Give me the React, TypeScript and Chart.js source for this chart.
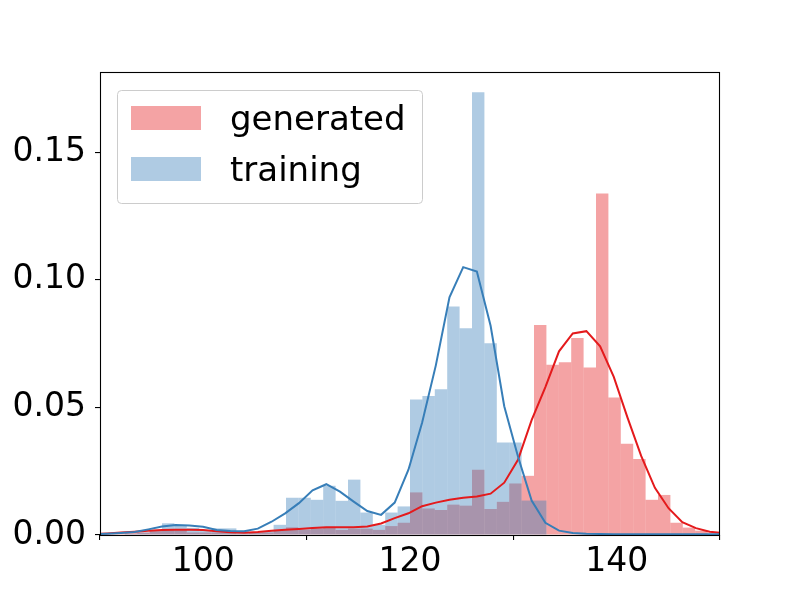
import React, { useEffect, useRef } from "react";
import { Chart, registerables } from "chart.js";

Chart.register(...registerables);

// Histogram bin centres (bin width 1.2)
const binCenters = [
  90.6, 91.8, 93.0, 94.2, 95.4, 96.6, 97.8, 99.0, 100.2, 101.4,
  102.6, 103.8, 105.0, 106.2, 107.4, 108.6, 109.8, 111.0, 112.2, 113.4,
  114.6, 115.8, 117.0, 118.2, 119.4, 120.6, 121.8, 123.0, 124.2, 125.4,
  126.6, 127.8, 129.0, 130.2, 131.4, 132.6, 133.8, 135.0, 136.2, 137.4,
  138.6, 139.8, 141.0, 142.2, 143.4, 144.6, 145.8, 147.0, 148.2, 149.4,
];

const generatedHist = [
  0, 0.0005, 0.001, 0.001, 0.002, 0.002, 0.002, 0.001, 0.001, 0.001,
  0.001, 0.0005, 0.001, 0.001, 0.002, 0.003, 0.002, 0.0025, 0.003, 0.002,
  0.0025, 0.0025, 0.002, 0.0035, 0.0048, 0.0167, 0.0104, 0.0098, 0.0119, 0.0115,
  0.0256, 0.0102, 0.013, 0.0202, 0.0232, 0.0823, 0.0667, 0.0677, 0.0772, 0.0657,
  0.1339, 0.0539, 0.0358, 0.0298, 0.0138, 0.0157, 0.0048, 0.0029, 0.0017, 0.0005,
];

const trainingHist = [
  0, 0, 0.0005, 0.001, 0.0015, 0.0046, 0.0036, 0.0028, 0.002, 0.0026,
  0.0026, 0.0015, 0.001, 0.0015, 0.004, 0.0146, 0.0146, 0.0138, 0.0193, 0.0134,
  0.0217, 0.0088, 0.004, 0.0088, 0.0112, 0.0531, 0.0545, 0.0571, 0.0896, 0.081,
  0.1736, 0.0752, 0.0363, 0.0363, 0.0135, 0.0135, 0, 0, 0, 0,
  0, 0, 0, 0, 0, 0, 0, 0, 0, 0,
];

// KDE evaluation grid
const kdeX = [
  89.37, 90.7, 92.02, 93.35, 94.67, 96.0, 97.32, 98.65, 99.97, 101.3,
  102.62, 103.95, 105.27, 106.6, 107.92, 109.25, 110.57, 111.9, 113.22, 114.55,
  115.87, 117.2, 118.52, 119.85, 121.17, 122.5, 123.82, 125.15, 126.47, 127.8,
  129.12, 130.45, 131.77, 133.1, 134.42, 135.75, 137.07, 138.4, 139.72, 141.05,
  142.37, 143.7, 145.02, 146.35, 147.67, 149.0, 150.32,
];

const generatedKde = [
  0.0003, 0.0006, 0.001, 0.0013, 0.0017, 0.002, 0.0021, 0.0021, 0.002, 0.0015,
  0.0011, 0.0009, 0.0012, 0.0017, 0.0021, 0.0024, 0.0027, 0.003, 0.003, 0.003,
  0.0033, 0.0045, 0.0066, 0.0085, 0.0113, 0.0127, 0.0138, 0.0146, 0.0151, 0.0162,
  0.0205, 0.0295, 0.045, 0.058, 0.072, 0.079, 0.0799, 0.074, 0.062, 0.046,
  0.031, 0.0185, 0.0105, 0.005, 0.0027, 0.0013, 0.0007,
];

const trainingKde = [
  0.0003, 0.0005, 0.0008, 0.0012, 0.0022, 0.0033, 0.0039, 0.0037, 0.0032, 0.002,
  0.0016, 0.0015, 0.0025, 0.0052, 0.0085, 0.0125, 0.0175, 0.0199, 0.017, 0.0131,
  0.0094, 0.0079, 0.0127, 0.0256, 0.044, 0.0665, 0.0932, 0.105, 0.1033, 0.082,
  0.0505, 0.0308, 0.0135, 0.0048, 0.0017, 0.0008, 0.0005, 0.0004, 0.0003, 0.0003,
  0.0003, 0.0003, 0.0003, 0.0003, 0.0003, 0.0003, 0.0003,
];

const xTicks = [100, 120, 140];
const yTicks = [0, 0.05, 0.1, 0.15];
const legendLabels = ["generated", "training"];

const RED = "#e41a1c";
const BLUE = "#377eb8";
const RED_A = "rgba(228,26,28,0.4)";
const BLUE_A = "rgba(55,126,184,0.4)";
const FONT = "'DejaVu Sans', sans-serif";

const framePlugin = {
  id: "frameAndLegend",
  afterDraw(chart: any) {
    const { ctx, chartArea } = chart;
    ctx.save();
    // axes frame
    ctx.strokeStyle = "#000";
    ctx.lineWidth = 1.1;
    ctx.strokeRect(
      Math.round(chartArea.left) + 0.5,
      Math.round(chartArea.top) + 0.5,
      Math.round(chartArea.right - chartArea.left) - 1,
      Math.round(chartArea.bottom - chartArea.top)
    );
    // legend
    const bx = 117.5, by = 90.5, bw = 305, bh = 113;
    ctx.beginPath();
    ctx.roundRect(bx, by, bw, bh, 4);
    ctx.fillStyle = "rgba(255,255,255,0.8)";
    ctx.fill();
    ctx.strokeStyle = "#cccccc";
    ctx.lineWidth = 1;
    ctx.stroke();
    const colors = [RED_A, BLUE_A];
    const patchY = [106, 157];
    const baseY = [130, 181];
    ctx.font = `34px ${FONT}`;
    ctx.textBaseline = "alphabetic";
    ctx.textAlign = "left";
    legendLabels.forEach((lab, i) => {
      ctx.fillStyle = colors[i];
      ctx.fillRect(131, patchY[i], 70, 24);
      ctx.fillStyle = "#000";
      ctx.fillText(lab, 230, baseY[i]);
    });
    ctx.restore();
  },
};

export default function App() {
  const ref = useRef<HTMLCanvasElement | null>(null);
  useEffect(() => {
    if (!ref.current) return;
    const chart = new Chart(ref.current, {
      type: "bar",
      data: {
        datasets: [
          {
            type: "bar",
            label: legendLabels[0],
            data: binCenters.map((x, i) => ({ x, y: generatedHist[i] })),
            backgroundColor: RED_A,
            borderWidth: 0,
            inflateAmount: 0,
            barPercentage: 1,
            categoryPercentage: 1,
            grouped: false,
            order: 4,
          } as any,
          {
            type: "bar",
            label: legendLabels[1],
            data: binCenters.map((x, i) => ({ x, y: trainingHist[i] })),
            backgroundColor: BLUE_A,
            borderWidth: 0,
            inflateAmount: 0,
            barPercentage: 1,
            categoryPercentage: 1,
            grouped: false,
            order: 3,
          } as any,
          {
            type: "line",
            label: "generated kde",
            data: kdeX.map((x, i) => ({ x, y: generatedKde[i] })),
            borderColor: RED,
            borderWidth: 2,
            pointRadius: 0,
            tension: 0,
            fill: false,
            order: 2,
          } as any,
          {
            type: "line",
            label: "training kde",
            data: kdeX.map((x, i) => ({ x, y: trainingKde[i] })),
            borderColor: BLUE,
            borderWidth: 2,
            pointRadius: 0,
            tension: 0,
            fill: false,
            order: 1,
          } as any,
        ],
      },
      options: {
        responsive: false,
        animation: false,
        layout: { padding: { left: 0, right: 80, top: 72, bottom: 0 } },
        plugins: {
          legend: { display: false },
          tooltip: { enabled: false },
        },
        scales: {
          x: {
            type: "linear",
            min: 90,
            max: 150,
            offset: false,
            afterFit: (s: any) => {
              s.height = 65;
            },
            afterBuildTicks: (s: any) => {
              s.ticks = xTicks.map((v) => ({ value: v }));
            },
            grid: {
              drawOnChartArea: false,
              drawTicks: true,
              tickLength: 5,
              color: "#000",
              lineWidth: 1.1,
            },
            border: { display: false },
            ticks: {
              color: "#000",
              font: { family: FONT, size: 33, lineHeight: 1 },
              padding: 6,
              maxRotation: 0,
              autoSkip: false,
            },
          },
          y: {
            type: "linear",
            min: 0,
            max: 0.1815,
            afterFit: (s: any) => {
              s.width = 100;
            },
            afterBuildTicks: (s: any) => {
              s.ticks = yTicks.map((v) => ({ value: v }));
            },
            grid: {
              drawOnChartArea: false,
              drawTicks: true,
              tickLength: 5,
              color: "#000",
              lineWidth: 1.1,
            },
            border: { display: false },
            ticks: {
              color: "#000",
              font: { family: FONT, size: 33, lineHeight: 1 },
              padding: 9,
              callback: (v: any) => Number(v).toFixed(2),
            },
          },
        },
      },
      plugins: [framePlugin],
    });
    return () => chart.destroy();
  }, []);
  return (
    <div style={{ position: "absolute", left: 0, top: 0, width: 800, height: 600, background: "#fff" }}>
      <canvas ref={ref} width={800} height={600} style={{ width: 800, height: 600 }} />
    </div>
  );
}
